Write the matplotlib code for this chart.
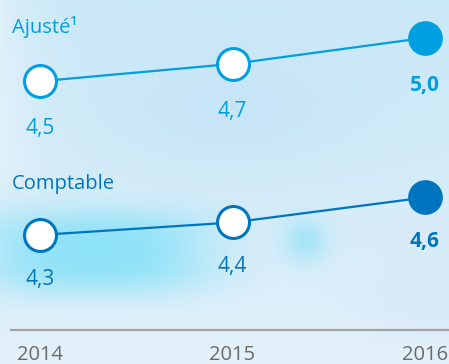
import numpy as np
import matplotlib.pyplot as plt

years = [2014, 2015, 2016]
year_labels = ["2014", "2015", "2016"]
ajuste = [4.5, 4.7, 5.0]
comptable = [4.3, 4.4, 4.6]
ajuste_labels = ["4,5", "4,7", "5,0"]
comptable_labels = ["4,3", "4,4", "4,6"]

c_light = "#009fe0"
c_dark = "#0075bf"

plt.rcParams['font.family'] = ['Open Sans', 'DejaVu Sans']

W, H = 449, 364
fig = plt.figure(figsize=(W / 100, H / 100), dpi=100)

# background: soft blue wash with blurry blobs
bg = fig.add_axes([0, 0, 1, 1])
yy, xx = np.mgrid[0:H, 0:W]
base_top = np.array([0.79, 0.91, 0.97])
base_bot = np.array([0.88, 0.94, 0.98])
t = (yy / H)[..., None]
img = base_top * (1 - t) + base_bot * t

# pale left edge, fading out towards the lower half
fade = 1 / (1 + np.exp((yy - 185) / 12.0))
edge = (np.exp(-xx / 35.0) * fade)[..., None] * 0.55
img = img * (1 - edge) + np.array([0.94, 0.97, 0.99]) * edge


def blob(cx, cy, sx, sy, col, a, p=2):
    g = np.exp(-(np.abs((xx - cx) / sx) ** p + np.abs((yy - cy) / sy) ** p))[..., None] * a
    return img * (1 - g) + np.array(col) * g


img = blob(230, 110, 130, 60, [0.74, 0.88, 0.96], 0.5)
img = blob(95, 252, 115, 42, [0.50, 0.88, 0.97], 0.85, p=3)
img = blob(305, 240, 22, 22, [0.55, 0.88, 0.97], 0.65)
img = blob(430, 300, 70, 40, [0.80, 0.88, 0.95], 0.35)
bot = np.exp(-(H - yy) / 30.0)[..., None] * 0.4
img = img * (1 - bot) + np.array([0.93, 0.96, 0.99]) * bot
bg.imshow(np.clip(img, 0, 1), extent=[0, W, H, 0], aspect='auto')
bg.set_xlim(0, W)
bg.set_ylim(H, 0)
bg.axis('off')

xlim = (2014 - 40 / 192.5, 2014 + (W - 40) / 192.5)


def series_axes(vals, labels, color, vm, pm, b, title, title_y, lab_off):
    # pixel row = pm + b * (v - vm), so work out value range covering the figure
    ylim = (vm + (H - pm) / b, vm - pm / b)
    ax = fig.add_axes([0, 0, 1, 1])
    ax.patch.set_alpha(0)
    ax.set_xlim(*xlim)
    ax.set_ylim(*ylim)
    ax.axis('off')
    ax.plot(years, vals, color=color, lw=1.6, zorder=2)
    ax.plot(years[:-1], vals[:-1], 'o', ms=23, mfc='white', mec=color, mew=2.2, zorder=3)
    ax.plot(years[-1:], vals[-1:], 'o', ms=25, mfc=color, mec=color, mew=0, zorder=3)
    for i, (x, v, s) in enumerate(zip(years, vals, labels)):
        bold = i == len(years) - 1
        ax.annotate(s, (x, v), xytext=(0, lab_off), textcoords='offset points',
                    ha='center', va='center', color=color, fontsize=15,
                    fontweight='bold' if bold else 'normal')
    fig.text(12 / W, 1 - title_y / H, title, color=color, fontsize=14.5,
             ha='left', va='center')
    return ax


series_axes(ajuste, ajuste_labels, c_light, 4.7333, 61.0, -86.8,
            "Ajusté¹", 27, -34)
series_axes(comptable, comptable_labels, c_dark, 4.4333, 218.3, -125.0,
            "Comptable", 184, -32)

# baseline and years
ax = fig.add_axes([0, 0, 1, 1])
ax.patch.set_alpha(0)
ax.set_xlim(*xlim)
ax.set_ylim(H, 0)
ax.axis('off')
ax.axhline(330, xmin=11 / W, xmax=1, color="#a3a3a3", lw=1.6)
for x, s in zip(years, year_labels):
    ax.text(x, 355, s, ha='center', va='center', color="#6b6b6b", fontsize=14.5)

fig.savefig("out.png", dpi=100)
